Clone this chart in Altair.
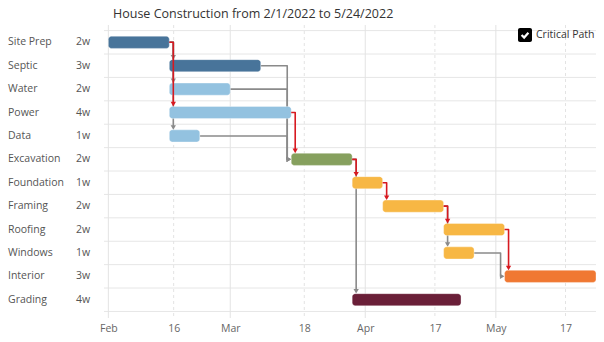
import altair as alt
import pandas as pd

# ---------------- data ----------------
tasks = ["Site Prep", "Septic", "Water", "Power", "Data", "Excavation",
         "Foundation", "Framing", "Roofing", "Windows", "Interior", "Grading"]
durations = ["2w", "3w", "2w", "4w", "1w", "2w", "1w", "2w", "2w", "1w", "3w", "4w"]
starts = ["2022-02-01", "2022-02-15", "2022-02-15", "2022-02-15", "2022-02-15", "2022-03-15",
          "2022-03-29", "2022-04-05", "2022-04-19", "2022-04-19", "2022-05-03", "2022-03-29"]
ends = ["2022-02-15", "2022-03-08", "2022-03-01", "2022-03-15", "2022-02-22", "2022-03-29",
        "2022-04-05", "2022-04-19", "2022-05-03", "2022-04-26", "2022-05-24", "2022-04-23"]
phases = ["Site", "Site", "Utilities", "Utilities", "Utilities", "Excavation",
          "Structure", "Structure", "Structure", "Structure", "Interior", "Grading"]
phase_names = ["Site", "Utilities", "Excavation", "Structure", "Interior", "Grading"]
phase_colors = ["#48749a", "#93c2e0", "#86a05e", "#f7b744", "#f07832", "#6a1f38"]

dep_from = ["Site Prep", "Site Prep", "Site Prep", "Site Prep", "Septic", "Water", "Power", "Data",
            "Excavation", "Excavation", "Foundation", "Framing", "Framing", "Roofing", "Windows"]
dep_to = ["Septic", "Water", "Power", "Data", "Excavation", "Excavation", "Excavation", "Excavation",
          "Foundation", "Grading", "Framing", "Roofing", "Windows", "Interior", "Interior"]
dep_critical = [False, False, True, False, False, False, True, False,
                True, False, True, True, False, True, False]

tick_months = ["2022-02-01", "2022-03-01", "2022-04-01", "2022-05-01"]
tick_mids = ["2022-02-16", "2022-03-18", "2022-04-17", "2022-05-17"]

title_text = "House Construction from 2/1/2022 to 5/24/2022"
legend_label = "Critical Path"

# ---------------- derived tables ----------------
FONT = "Open Sans"
FS = 10.5
HALF = 0.26          # half bar thickness in row units
AR = 0.1             # arrow offset in row units
STEP = pd.Timedelta(hours=22)
ARX = pd.Timedelta(hours=13)

bars = pd.DataFrame({
    "task": tasks, "dur": durations,
    "start": pd.to_datetime(starts), "end": pd.to_datetime(ends),
    "phase": phases, "row": list(range(len(tasks))),
})
bars["top"] = bars["row"] - HALF
bars["bot"] = bars["row"] + HALF
row_of = {t: i for i, t in enumerate(tasks)}
start_of = dict(zip(tasks, bars["start"]))
end_of = dict(zip(tasks, bars["end"]))

pts, arrows = [], []
for k, (a, b, crit) in enumerate(zip(dep_from, dep_to, dep_critical)):
    pe, pr = end_of[a], row_of[a]
    ss, sr = start_of[b], row_of[b]
    if ss <= pe:
        xv = pe + STEP
        path = [(pe, pr), (xv, pr), (xv, sr - HALF - AR)]
        arrows.append({"id": k, "x": xv, "y": sr - HALF - AR, "crit": crit, "shape": "triangle-down"})
    else:
        xv = ss - STEP
        path = [(pe, pr), (xv, pr), (xv, sr), (ss - ARX, sr)]
        arrows.append({"id": k, "x": ss - ARX, "y": sr, "crit": crit, "shape": "triangle-right"})
    for j, (x, y) in enumerate(path):
        pts.append({"id": k, "seq": j, "x": x, "y": y, "crit": crit})
pts = pd.DataFrame(pts)
arrows = pd.DataFrame(arrows)

hlines = pd.DataFrame({"y": [i - 0.5 for i in range(len(tasks) + 1)]})
vmonths = pd.DataFrame({"d": pd.to_datetime(tick_months)})
vmids = pd.DataFrame({"d": pd.to_datetime(tick_mids)})

xdom = [alt.DateTime(year=2022, month=1, date=31), alt.DateTime(year=2022, month=5, date=24)]
xscale = alt.Scale(domain=xdom, nice=False)
yscale = alt.Scale(domain=[-0.74, 11.78], reverse=True, nice=False, zero=False)

tick_vals = [alt.DateTime(year=int(s[:4]), month=int(s[5:7]), date=int(s[8:10]))
             for s in sorted(tick_months + tick_mids)]
xaxis = alt.Axis(values=tick_vals, grid=False, ticks=False, domain=False, title=None,
                 labelExpr="date(datum.value) == 1 ? timeFormat(datum.value, '%b') : timeFormat(datum.value, '%d')",
                 labelFont=FONT, labelFontSize=FS, labelColor="#666", labelPadding=5)

RED = "#d71920"
GRAY = "#8a8a8a"

def X(field):
    return alt.X(field, scale=xscale, axis=xaxis)

def Y(field):
    return alt.Y(field, scale=yscale, axis=None)

hgrid = alt.Chart(hlines).mark_rule(color="#e6e6e6", strokeWidth=1).encode(y=Y("y:Q"))
vgrid1 = alt.Chart(vmonths).mark_rule(color="#e3e3e3", strokeWidth=1).encode(x=X("d:T"))
vgrid2 = alt.Chart(vmids).mark_rule(color="#e3e3e3", strokeWidth=1, strokeDash=[3, 3]).encode(x=X("d:T"))

def conn_lines(crit, color):
    return alt.Chart(pts[pts["crit"] == crit]).mark_line(
        color=color, strokeWidth=1.6, strokeJoin="round").encode(
        x=X("x:T"), y=Y("y:Q"), detail="id:N", order="seq:Q")

def conn_arrows(crit, color):
    return alt.Chart(arrows[arrows["crit"] == crit]).mark_point(
        filled=True, color=color, size=28, opacity=1).encode(
        x=X("x:T"), y=Y("y:Q"), shape=alt.Shape("shape:N", scale=None))

barl = alt.Chart(bars).mark_rect(cornerRadius=3, stroke="white",
                                 strokeOpacity=0.35, strokeWidth=1).encode(
    x=X("start:T"), x2="end:T",
    y=Y("top:Q"), y2="bot:Q",
    color=alt.Color("phase:N", scale=alt.Scale(domain=phase_names, range=phase_colors), legend=None),
)

names = alt.Chart(bars).mark_text(align="left", baseline="middle", font=FONT,
                                  fontSize=FS, color="#555").encode(
    x=alt.value(-96), y=Y("row:Q"), text="task:N")
durs = alt.Chart(bars).mark_text(align="left", baseline="middle", font=FONT,
                                 fontSize=FS, color="#555").encode(
    x=alt.value(-28), y=Y("row:Q"), text="dur:N")

leg = pd.DataFrame({"label": [legend_label]})
box = alt.Chart(leg).mark_rect(color="black", cornerRadius=2).encode(
    x=alt.value(414), x2=alt.value(428), y=alt.value(3), y2=alt.value(17))
check = alt.Chart(leg).mark_point(shape="M-0.6,0 L-0.15,0.45 L0.6,-0.4", filled=False,
                                  stroke="white", strokeWidth=2.2, size=130, opacity=1).encode(
    x=alt.value(421), y=alt.value(10))
legtext = alt.Chart(leg).mark_text(align="left", baseline="middle", font=FONT,
                                   fontSize=FS, color="#333").encode(
    x=alt.value(432), y=alt.value(10), text="label:N")

chart = alt.layer(
    hgrid, vgrid1, vgrid2,
    conn_lines(False, GRAY), conn_arrows(False, GRAY),
    barl,
    conn_lines(True, RED), conn_arrows(True, RED),
    names, durs, box, check, legtext,
).properties(
    width=492, height=293,
    title=alt.TitleParams(title_text, anchor="start", frame="group", dx=9, font=FONT, fontSize=12.5,
                          fontWeight="normal", color="#333", offset=4),
    autosize=alt.AutoSizeParams(type="none"),
    padding={"left": 104, "top": 25, "right": 8, "bottom": 24},
).configure_view(strokeOpacity=0)

chart.save("out.html", embed_options={"renderer": "svg", "actions": False})
